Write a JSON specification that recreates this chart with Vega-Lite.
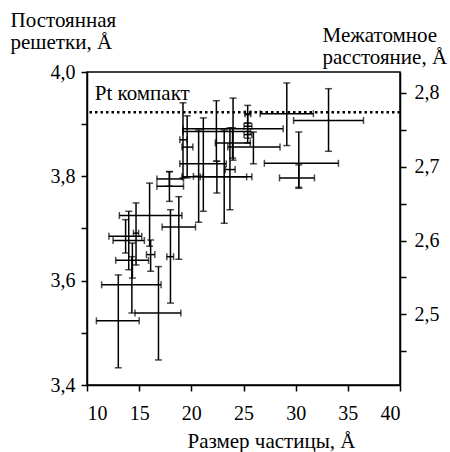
{
  "$schema": "https://vega.github.io/schema/vega-lite/v6.json",
  "width": 313,
  "height": 313,
  "autosize": {"type": "none"},
  "padding": {"left": 87, "top": 72, "right": 50, "bottom": 67},
  "background": "white",
  "config": {
    "font": "Liberation Serif",
    "view": {"stroke": "black", "strokeWidth": 1.5},
    "axis": {
      "domainColor": "black", "domainWidth": 1.5, "tickColor": "black", "tickWidth": 1.5, "tickSize": 6,
      "labelFont": "Liberation Serif", "labelFontSize": 20, "labelColor": "black",
      "titleFont": "Liberation Serif", "titleFontSize": 21, "titleFontWeight": "normal", "titleColor": "black",
      "grid": false
    }
  },
  "datasets": {
    "pts": [
      {"x": 13.0, "xlo": 10.9, "xhi": 15.0, "y": 3.523, "ylo": 3.433, "yhi": 3.611},
      {"x": 14.3, "xlo": 11.4, "xhi": 17.1, "y": 3.592, "ylo": 3.538, "yhi": 3.646},
      {"x": 16.85, "xlo": 14.6, "xhi": 19.0, "y": 3.538, "ylo": 3.448, "yhi": 3.627},
      {"x": 18.8, "xlo": 17.2, "xhi": 20.4, "y": 3.703, "ylo": 3.641, "yhi": 3.761},
      {"x": 16.0, "xlo": 13.1, "xhi": 19.1, "y": 3.725, "ylo": 3.666, "yhi": 3.787},
      {"x": 18.0, "xlo": 17.65, "xhi": 18.3, "y": 3.646, "ylo": 3.557, "yhi": 3.736},
      {"x": 13.7, "xlo": 12.1, "xhi": 15.25, "y": 3.685, "ylo": 3.653, "yhi": 3.717},
      {"x": 14.0, "xlo": 12.5, "xhi": 15.5, "y": 3.677, "ylo": 3.621, "yhi": 3.733},
      {"x": 14.35, "xlo": 12.75, "xhi": 15.9, "y": 3.639, "ylo": 3.605, "yhi": 3.672},
      {"x": 16.1, "xlo": 15.7, "xhi": 16.5, "y": 3.65, "ylo": 3.618, "yhi": 3.678},
      {"x": 14.7, "xlo": 14.45, "xhi": 14.95, "y": 3.691, "ylo": 3.63, "yhi": 3.749},
      {"x": 17.9, "xlo": 16.7, "xhi": 19.25, "y": 3.795, "ylo": 3.781, "yhi": 3.809},
      {"x": 17.9, "xlo": 16.7, "xhi": 19.25, "y": 3.781, "ylo": 3.752, "yhi": 3.809},
      {"x": 21.15, "xlo": 18.9, "xhi": 23.35, "y": 3.824, "ylo": 3.733, "yhi": 3.912},
      {"x": 22.45, "xlo": 19.1, "xhi": 25.8, "y": 3.799, "ylo": 3.768, "yhi": 3.829},
      {"x": 20.7, "xlo": 20.2, "xhi": 21.15, "y": 3.8, "ylo": 3.712, "yhi": 3.889},
      {"x": 23.15, "xlo": 20.85, "xhi": 25.3, "y": 3.799, "ylo": 3.71, "yhi": 3.889},
      {"x": 23.7, "xlo": 23.25, "xhi": 24.2, "y": 3.813, "ylo": 3.736, "yhi": 3.893},
      {"x": 24.0, "xlo": 19.2, "xhi": 28.8, "y": 3.891, "ylo": 3.831, "yhi": 3.95},
      {"x": 22.4, "xlo": 19.2, "xhi": 25.65, "y": 3.886, "ylo": 3.829, "yhi": 3.945},
      {"x": 19.6, "xlo": 19.1, "xhi": 20.15, "y": 3.856, "ylo": 3.797, "yhi": 3.916},
      {"x": 25.95, "xlo": 23.5, "xhi": 28.5, "y": 3.856, "ylo": 3.824, "yhi": 3.885},
      {"x": 19.2, "xlo": 18.9, "xhi": 19.6, "y": 3.87, "ylo": 3.797, "yhi": 3.941},
      {"x": 23.95, "xlo": 22.3, "xhi": 25.65, "y": 3.864, "ylo": 3.835, "yhi": 3.893},
      {"x": 25.4, "xlo": 25.15, "xhi": 25.7, "y": 3.92, "ylo": 3.902, "yhi": 3.936},
      {"x": 25.4, "xlo": 25.05, "xhi": 25.8, "y": 3.896, "ylo": 3.873, "yhi": 3.918},
      {"x": 25.4, "xlo": 25.05, "xhi": 25.8, "y": 3.88, "ylo": 3.864, "yhi": 3.902},
      {"x": 29.15, "xlo": 26.6, "xhi": 31.7, "y": 3.92, "ylo": 3.859, "yhi": 3.979},
      {"x": 33.15, "xlo": 29.8, "xhi": 36.5, "y": 3.907, "ylo": 3.848, "yhi": 3.968},
      {"x": 30.3, "xlo": 27.0, "xhi": 34.1, "y": 3.825, "ylo": 3.779, "yhi": 3.885},
      {"x": 30.3, "xlo": 28.45, "xhi": 31.8, "y": 3.797, "ylo": 3.777, "yhi": 3.822}
    ]
  },
  "layer": [
    {
      "data": {"name": "pts"},
      "layer": [
        {
          "mark": {"type": "rule", "color": "black", "strokeWidth": 1.5},
          "encoding": {
            "x": {"field": "xlo", "type": "quantitative",
              "scale": {"domain": [10, 40], "nice": false, "zero": false},
              "axis": {"values": [10, 15, 20, 25, 30, 35, 40], "labelPadding": 12,
                "labelFont": "Liberation Serif", "labelFontSize": 20, "titleFont": "Liberation Serif",
                "title": "Размер частицы, Å", "titleX": 184, "titleY": 45, "titleAlign": "center", "titleBaseline": "top"}},
            "x2": {"field": "xhi"},
            "y": {"field": "y", "type": "quantitative",
              "scale": {"domain": [3.4, 4.0], "nice": false, "zero": false},
              "axis": {"values": [3.4, 3.5, 3.6, 3.7, 3.8, 3.9, 4.0], "labelPadding": 6,
                "labelFont": "Liberation Serif", "labelFontSize": 20, "titleFont": "Liberation Serif",
                "labelExpr": "round(datum.value*10) % 2 == 0 ? replace(format(datum.value, '.1f'), '.', ',') : ''",
                "title": ["Постоянная", "решетки, Å"], "titleAngle": 0, "titleAlign": "left", "titleBaseline": "top",
                "titleX": -77, "titleY": -63, "titleLineHeight": 22}}
          }
        },
        {
          "mark": {"type": "rule", "color": "black", "strokeWidth": 1.5},
          "encoding": {
            "x": {"field": "x", "type": "quantitative"},
            "y": {"field": "ylo", "type": "quantitative"},
            "y2": {"field": "yhi"}
          }
        },
        {
          "mark": {"type": "tick", "orient": "vertical", "color": "black", "size": 7, "thickness": 1.5},
          "encoding": {"x": {"field": "xlo", "type": "quantitative"}, "y": {"field": "y", "type": "quantitative"}}
        },
        {
          "mark": {"type": "tick", "orient": "vertical", "color": "black", "size": 7, "thickness": 1.5},
          "encoding": {"x": {"field": "xhi", "type": "quantitative"}, "y": {"field": "y", "type": "quantitative"}}
        },
        {
          "mark": {"type": "tick", "orient": "horizontal", "color": "black", "size": 7, "thickness": 1.5},
          "encoding": {"x": {"field": "x", "type": "quantitative"}, "y": {"field": "ylo", "type": "quantitative"}}
        },
        {
          "mark": {"type": "tick", "orient": "horizontal", "color": "black", "size": 7, "thickness": 1.5},
          "encoding": {"x": {"field": "x", "type": "quantitative"}, "y": {"field": "yhi", "type": "quantitative"}}
        },
        {
          "data": {"values": [{"a": 3.923}]},
          "mark": {"type": "rule", "color": "black", "strokeWidth": 2.5, "strokeDash": [2.5, 3]},
          "encoding": {"y": {"field": "a", "type": "quantitative"}}
        },
        {
          "data": {"values": [{"label": "Pt компакт", "x": 10.75, "y": 3.947}]},
          "mark": {"type": "text", "align": "left", "baseline": "alphabetic", "font": "Liberation Serif", "fontSize": 21, "color": "black"},
          "encoding": {
            "x": {"field": "x", "type": "quantitative"},
            "y": {"field": "y", "type": "quantitative"},
            "text": {"field": "label"}
          }
        }
      ]
    },
    {
      "data": {"values": [{"d": 2.6}]},
      "mark": {"type": "point", "opacity": 0},
      "encoding": {
        "y": {"field": "d", "type": "quantitative",
          "scale": {"domain": [2.404163, 2.828427], "nice": false, "zero": false},
          "axis": {"orient": "right", "values": [2.45, 2.5, 2.55, 2.6, 2.65, 2.7, 2.75, 2.8], "labelPadding": 8,
            "labelFont": "Liberation Serif", "labelFontSize": 20, "titleFont": "Liberation Serif",
            "labelExpr": "abs(datum.value*10 - round(datum.value*10)) < 0.01 ? replace(format(datum.value, '.1f'), '.', ',') : ''",
            "title": ["Межатомное", "расстояние, Å"], "titleAngle": 0, "titleAlign": "left", "titleBaseline": "top",
            "titleX": -78, "titleY": -48, "titleLineHeight": 22}}
      }
    }
  ],
  "resolve": {"scale": {"y": "independent"}, "axis": {"y": "independent"}}
}
